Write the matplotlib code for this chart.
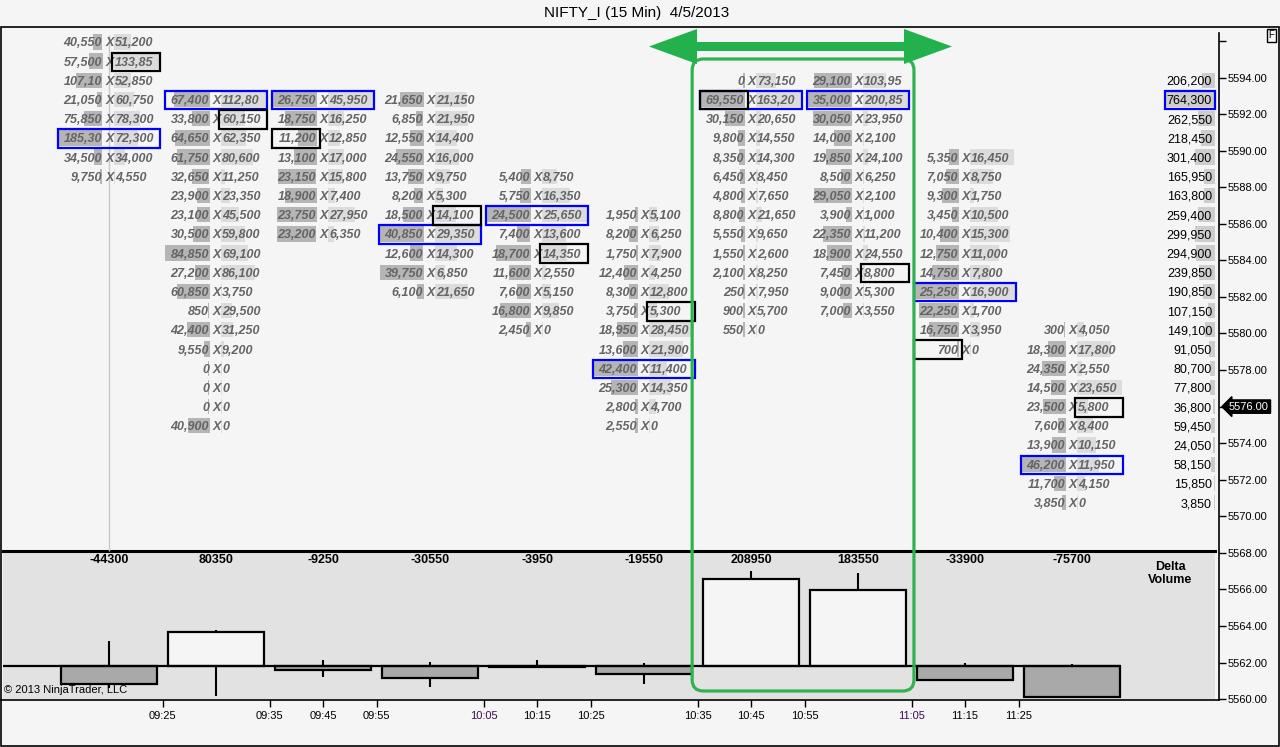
import numpy as np
import matplotlib
matplotlib.use("Agg")
import matplotlib.pyplot as plt
import matplotlib.transforms as mtransforms
from matplotlib.patches import Rectangle, FancyBboxPatch, Polygon

plt.rcParams['font.family'] = ['Liberation Sans', 'DejaVu Sans']

W, H = 1280, 747

# ---------------- data ----------------
title = "NIFTY_I (15 Min)  4/5/2013"
times = ['09:25', '09:35', '09:45', '09:55', '10:05', '10:15', '10:25',
         '10:35', '10:45', '10:55', '11:05', '11:15', '11:25']
time_pos = [0.5, 1.5, 2, 2.5, 3.5, 4, 4.5, 5.5, 6, 6.5, 7.5, 8, 8.5]

last_price = 5576.00
last_row = 19          # row index of the last traded price
row_size = 1.05        # price span of one ladder row

# first (top) row of every 15 min column
col_top_row = [0, 3, 3, 3, 7, 9, 2, 2, 6, 15]

bid_1 = [40550, 57500, 107100, 21050, 75850, 185300, 34500, 9750]
ask_1 = [51200, 133850, 52850, 60750, 78300, 72300, 34000, 4550]
bid_2 = [67400, 33800, 64650, 61750, 32650, 23900, 23100, 30500, 84850,
         27200, 60850, 850, 42400, 9550, 0, 0, 0, 40900]
ask_2 = [112800, 60150, 62350, 80600, 11250, 23350, 45500, 59800, 69100,
         86100, 3750, 29500, 31250, 9200, 0, 0, 0, 0]
bid_3 = [26750, 18750, 11200, 13100, 23150, 18900, 23750, 23200]
ask_3 = [45950, 16250, 12850, 17000, 15800, 7400, 27950, 6350]
bid_4 = [21650, 6850, 12550, 24550, 13750, 8200, 18500, 40850, 12600, 39750, 6100]
ask_4 = [21150, 21950, 14400, 16000, 9750, 5300, 14100, 29350, 14300, 6850, 21650]
bid_5 = [5400, 5750, 24500, 7400, 18700, 11600, 7600, 16800, 2450]
ask_5 = [8750, 16350, 25650, 13600, 14350, 2550, 5150, 9850, 0]
bid_6 = [1950, 8200, 1750, 12400, 8300, 3750, 18950, 13600, 42400, 25300, 2800, 2550]
ask_6 = [5100, 6250, 7900, 4250, 12800, 5300, 28450, 21900, 11400, 14350, 4700, 0]
bid_7 = [0, 69550, 30150, 9800, 8350, 6450, 4800, 8800, 5550, 1550, 2100, 250, 900, 550]
ask_7 = [73150, 163200, 20650, 14550, 14300, 8450, 7650, 21650, 9650, 2600,
         8250, 7950, 5700, 0]
bid_8 = [29100, 35000, 30050, 14000, 19850, 8500, 29050, 3900, 22350, 18900,
         7450, 9000, 7000]
ask_8 = [103950, 200850, 23950, 2100, 24100, 6250, 2100, 1000, 11200, 24550,
         8800, 5300, 3550]
bid_9 = [5350, 7050, 9300, 3450, 10400, 12750, 14750, 25250, 22250, 16750, 700]
ask_9 = [16450, 8750, 1750, 10500, 15300, 11000, 7800, 16900, 1700, 3950, 0]
bid_10 = [300, 18300, 24350, 14500, 23500, 7600, 13900, 46200, 11700, 3850]
ask_10 = [4050, 17800, 2550, 23650, 5800, 8400, 10150, 11950, 4150, 0]

bids = [bid_1, bid_2, bid_3, bid_4, bid_5, bid_6, bid_7, bid_8, bid_9, bid_10]
asks = [ask_1, ask_2, ask_3, ask_4, ask_5, ask_6, ask_7, ask_8, ask_9, ask_10]

# highlighted cells: (column, row)
blue_cells = [(0, 5), (1, 3), (2, 3), (3, 10), (4, 9), (5, 17), (6, 3), (7, 3),
              (8, 13), (9, 22)]
black_ask_cells = [(0, 1), (1, 4), (3, 9), (4, 11), (5, 14), (7, 12), (9, 19)]
black_bid_cells = [(2, 5), (6, 3), (8, 16)]

# total volume per price row (rows 2..24)
total_top_row = 2
totals = [206200, 764300, 262550, 218450, 301400, 165950, 163800, 259400,
          299950, 294900, 239850, 190850, 107150, 149100, 91050, 80700, 77800,
          36800, 59450, 24050, 58150, 15850, 3850]
total_blue_row = 3

# delta volume per bar
delta = [-44300, 80350, -9250, -30550, -3950, -19550, 208950, 183550, -33900, -75700]
delta_high = [60000, 86400, 13800, 9000, 13800, 5800, 229900, 225000, 5800, 4100]
delta_low = [-54000, -72600, -26600, -50800, -3950, -45000, 0, 0, -33900, -78200]

# ---------------- layout ----------------
COL_PX = 107.0       # pixels per column
PRICE_PX = 18.28     # pixels per price point
PX_X = 1 / COL_PX
PX_Y = 1 / PRICE_PX
C0 = 109             # pixel x of first column centre


def row_price(r):
    return last_price + (last_row - r) * row_size


def short(v):
    return f'{v:,}'[:6]


BG = '#f5f5f5'
TXT = '#646464'
fig = plt.figure(figsize=(W / 100, H / 100), dpi=100, facecolor=BG)

x_left = (1 - C0) / COL_PX
x_right = (1219 - C0) / COL_PX
y_top = 5596 + 14 / PRICE_PX
y_bot = 5596 - 659 / PRICE_PX

ax = fig.add_axes([1 / W, 1 - 700 / H, 1218 / W, 673 / H])
ax.set_xlim(x_left, x_right)
ax.set_ylim(y_bot, y_top)
ax.patch.set_visible(False)
ax.set_zorder(3)

ax2 = fig.add_axes([3 / W, 1 - 699 / H, 1212 / W, 148 / H], facecolor='#e2e2e2')
ax2.set_zorder(2)
ax2.set_xlim((3 - C0) / COL_PX, (1215 - C0) / COL_PX)
ax2.set_ylim(-33.3 * 2420, 114.7 * 2420)

# ---- ladder cells ----
bar_h = 15.3 * PX_Y
for i, (bcol, acol) in enumerate(zip(bids, asks)):
    bmax = max(bcol)
    amax = max(acol)
    for k, (b, a) in enumerate(zip(bcol, acol)):
        y = row_price(col_top_row[i] + k)
        wb = max(b / bmax * 45, 1.2) * PX_X
        wa = max(a / amax * 45, 1.2) * PX_X
        ax.add_patch(Rectangle((i - 6.5 * PX_X - wb, y - bar_h / 2), wb, bar_h,
                               fc='#b5b5b5', ec='none', zorder=1))
        ax.add_patch(Rectangle((i + 4.7 * PX_X, y - bar_h / 2), wa, bar_h,
                               fc='#dcdcdc', ec='none', zorder=1))
        yb = y - 4.5 * PX_Y
        kw = dict(fontsize=9, fontweight='bold', fontstyle='italic', color=TXT,
                  va='baseline', zorder=4)
        ax.text(i - 7 * PX_X, yb, short(b), ha='right', **kw)
        ax.text(i + 1 * PX_X, yb, 'X', ha='center', **kw)
        ax.text(i + 6 * PX_X, yb, short(a), ha='left', **kw)

box_h = 18.5 * PX_Y


def cell_box(i, r, x0, x1, color):
    y = row_price(r) - 0.7 * PX_Y
    ax.add_patch(Rectangle((i + x0 * PX_X, y - box_h / 2), (x1 - x0) * PX_X, box_h,
                           fill=False, ec=color, lw=1.6, zorder=5))


for i, r in blue_cells:
    cell_box(i, r, -51, 51, '#0000ff')
for i, r in black_ask_cells:
    cell_box(i, r, 3, 51, 'black')
for i, r in black_bid_cells:
    cell_box(i, r, -51, -3, 'black')

# ---- total volume column ----
tx = (1212 - C0) / COL_PX
tbar = (1215 - C0) / COL_PX
tmax = max(totals)
for k, v in enumerate(totals):
    y = row_price(total_top_row + k)
    w = max(v / tmax * 50, 1.2) * PX_X
    ax.add_patch(Rectangle((tbar - w, y - bar_h / 2), w, bar_h, fc='#cdcdcd',
                           ec='none', zorder=1))
    ax.text(tx, y - 4.5 * PX_Y, f'{v:,}', ha='right', va='baseline',
            fontsize=9, color='black', zorder=4)
    if total_top_row + k == total_blue_row:
        ax.add_patch(Rectangle((tbar - 50 * PX_X, y - 0.7 * PX_Y - box_h / 2),
                               50 * PX_X, box_h, fill=False, ec='#0000ff',
                               lw=1.6, zorder=5))

# cursor line on first bar
ax.vlines(0, 5596 - 510 / PRICE_PX, 5596 + 6 / PRICE_PX, color='#c8c8c8', lw=1, zorder=0)

# ---- price axis ----
for s in ['left', 'top']:
    ax.spines[s].set_visible(False)
ax.spines['right'].set_bounds(y_bot, 5596 + 8 / PRICE_PX)
ax.spines['right'].set_linewidth(1.2)
ax.spines['bottom'].set_linewidth(1.2)
ax.yaxis.tick_right()
pticks = np.arange(5560, 5597, 2)
ax.set_yticks(pticks)
ax.set_yticklabels(['' if p in (5596, 5576) else f'{p:.2f}' for p in pticks])
ax.tick_params(axis='y', direction='out', length=5, width=1, labelsize=8, pad=1)
ax.set_xticks(time_pos)
ax.set_xticklabels(times)
ax.tick_params(axis='x', direction='out', length=5, width=1, labelsize=8, pad=3)
for lab in ax.get_xticklabels():
    if lab.get_text() in ('10:05', '11:05'):
        lab.set_color('#3c0f50')

tag_tr = mtransforms.blended_transform_factory(ax.transAxes, ax.transData)
ax.text(1 + 10 / 1218, last_price, f'{last_price:.2f}', transform=tag_tr,
        ha='left', va='center', fontsize=8, color='white', zorder=6,
        bbox=dict(boxstyle='larrow,pad=0.15', fc='black', ec='black'))

# ---- delta volume panel ----
xs = np.arange(len(delta))
ax2.vlines(xs, delta_low, delta_high, color='black', lw=1.5, zorder=2)
ax2.bar(xs, delta, width=0.9, color=['#a9a9a9' if d < 0 else '#f5f5f5' for d in delta],
        edgecolor='black', linewidth=1.6, zorder=3)
ax2.hlines(0, (3 - C0) / COL_PX, xs[-1] + 0.45, color='black', lw=1.6, zorder=4)
for x, d in zip(xs, delta):
    ax2.text(x, 0.94, str(d), transform=ax2.get_xaxis_transform(), ha='center',
             va='center', fontsize=9, fontweight='bold')
ax2.text((1170 - C0) / COL_PX, 0.845, 'Delta\nVolume', transform=ax2.get_xaxis_transform(),
         ha='center', va='center', fontsize=9, fontweight='bold', linespacing=1.1)
ax2.text(0.001, 0.03, '\u00a9 2013 NinjaTrader, LLC', transform=ax2.transAxes,
         ha='left', va='bottom', fontsize=8)
ax2.set_xticks([])
ax2.set_yticks([])
for s in ['left', 'right', 'bottom']:
    ax2.spines[s].set_visible(False)
ax2.spines['top'].set_linewidth(2.2)

# ---- highlight: rounded box + double arrow over bars 7 and 8 ----
GREEN = '#2eb350'
bx0, bx1 = 6 - 0.55, 7 + 0.523
by0, by1 = 5596 - 650 / PRICE_PX, 5596 - 18 / PRICE_PX
ax.add_patch(FancyBboxPatch((bx0, by0), bx1 - bx0, by1 - by0,
                            boxstyle='round,pad=0,rounding_size=0.105',
                            mutation_aspect=COL_PX / PRICE_PX,
                            fill=False, ec=GREEN, lw=2.3, zorder=7, clip_on=False))

ay = 5596 - 5.5 / PRICE_PX
ax0, ax1 = (649 - C0) / COL_PX, (952 - C0) / COL_PX
hl = 48 * PX_X
hw = 17.5 * PX_Y
sw = 4.5 * PX_Y
arrow = [(ax0, ay), (ax0 + hl, ay + hw), (ax0 + hl, ay + sw), (ax1 - hl, ay + sw),
         (ax1 - hl, ay + hw), (ax1, ay), (ax1 - hl, ay - hw), (ax1 - hl, ay - sw),
         (ax0 + hl, ay - sw), (ax0 + hl, ay - hw)]
ax.add_patch(Polygon(arrow, closed=True, fc='#22b14c', ec='none', zorder=7, clip_on=False))

# ---- title, frame, F box ----
fig.text(637 / W, 1 - 13 / H, title, ha='center', va='center', fontsize=11)
px = mtransforms.Affine2D().scale(1 / W, -1 / H).translate(0, 1) + fig.transFigure
fig.patches.append(Rectangle((1, 27), 1278, 719, fill=False, ec='black', lw=1.2,
                             transform=px, figure=fig))
fig.text(1271.5 / W, 1 - 35.5 / H, 'F', ha='center', va='center', fontsize=7,
         bbox=dict(boxstyle='square,pad=0.2', fc='#f8f8f8', ec='black', lw=1))

fig.savefig('out.png', dpi=100, facecolor=BG)
